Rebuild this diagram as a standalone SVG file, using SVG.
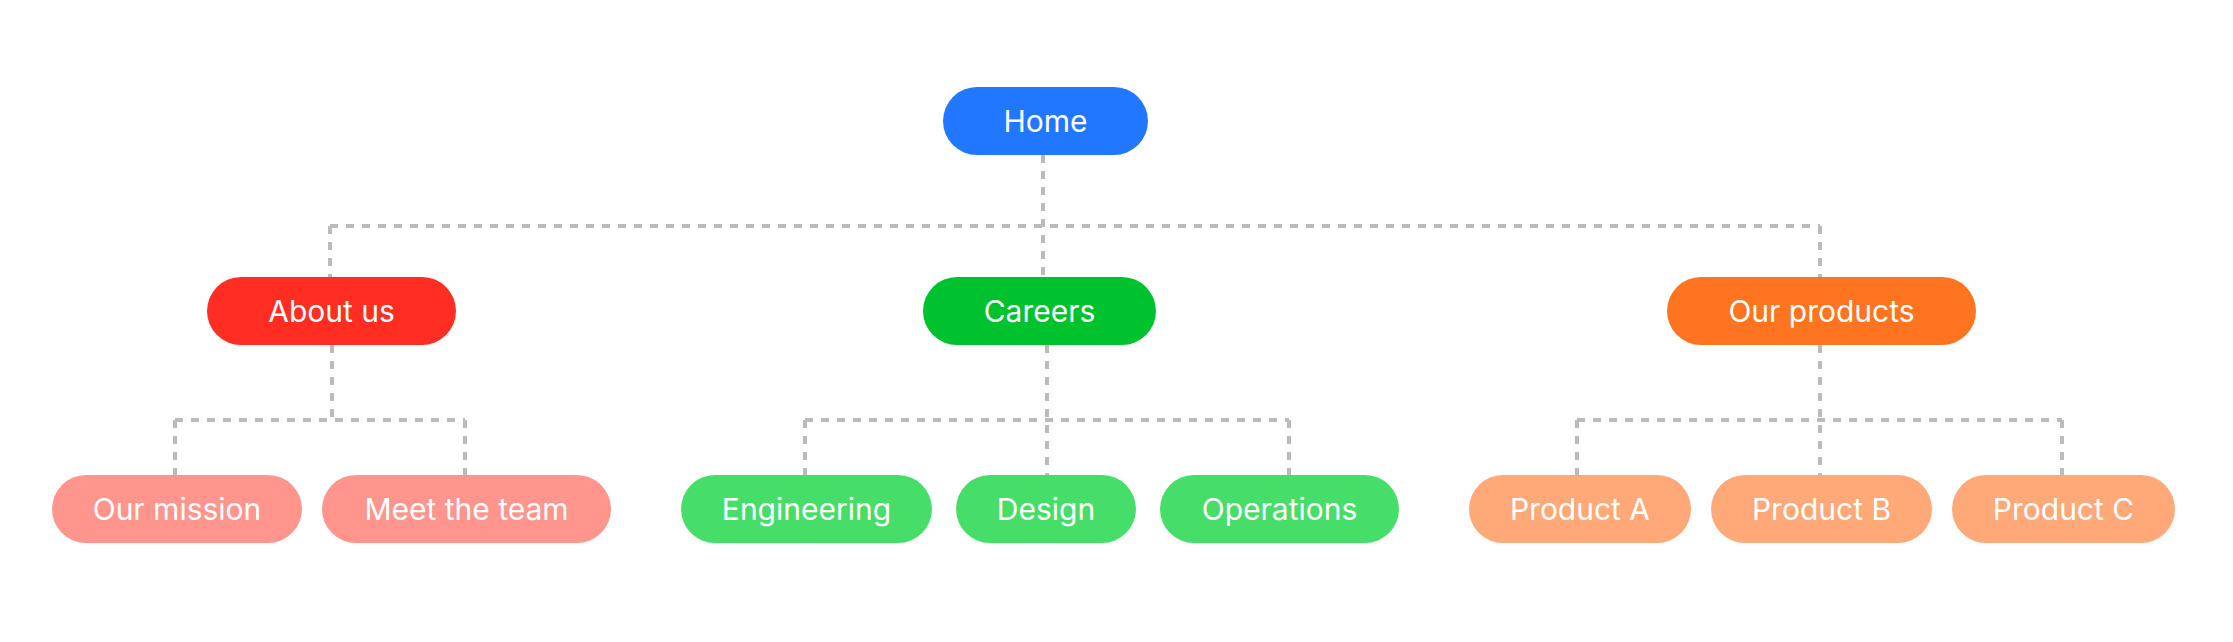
<svg xmlns="http://www.w3.org/2000/svg" width="2233" height="642" viewBox="0 0 2233 642">
<style>
.c{fill:none;stroke:#BBBBBB;stroke-width:4;stroke-dasharray:8 8}
.t{font-family:Inter,"Noto Sans","Liberation Sans",sans-serif;font-size:30px;fill:#FFFFFF;text-anchor:middle}
.blue{fill:#2178FF}.red{fill:#FF2D22}.green{fill:#00C22E}.orange{fill:#FF7420}
.lred{fill:#FF958C}.lgreen{fill:#47DD69}.lorange{fill:#FFA878}
</style>
<rect width="2233" height="642" fill="#FFFFFF"/>
<g id="connectors">
<path class="c" d="M1043 155V277"/>
<path class="c" d="M330 226H1820"/>
<path class="c" d="M330 226V277"/>
<path class="c" d="M1820 226V277"/>
<path class="c" d="M332 345V420"/>
<path class="c" d="M175 420H465"/>
<path class="c" d="M175 420V475"/>
<path class="c" d="M465 420V475"/>
<path class="c" d="M1047 345V475"/>
<path class="c" d="M805 420H1289"/>
<path class="c" d="M805 420V475"/>
<path class="c" d="M1289 420V475"/>
<path class="c" d="M1820 345V475"/>
<path class="c" d="M1577 420H2062"/>
<path class="c" d="M1577 420V475"/>
<path class="c" d="M2062 420V475"/>
</g>
<g id="home"><rect class="blue" x="943" y="87" width="205" height="68" rx="34"/><text class="t" x="1045.5" y="131.5">Home</text></g>
<g id="about"><rect class="red" x="207" y="277" width="249" height="68" rx="34"/><text class="t" x="331.5" y="322">About us</text></g>
<g id="careers"><rect class="green" x="923" y="277" width="233" height="68" rx="34"/><text class="t" x="1039.5" y="322">Careers</text></g>
<g id="products"><rect class="orange" x="1667" y="277" width="309" height="68" rx="34"/><text class="t" x="1821.5" y="322">Our products</text></g>
<g id="mission"><rect class="lred" x="52" y="475" width="250" height="68" rx="34"/><text class="t" x="177" y="520">Our mission</text></g>
<g id="team"><rect class="lred" x="322" y="475" width="289" height="68" rx="34"/><text class="t" x="466.5" y="520">Meet the team</text></g>
<g id="engineering"><rect class="lgreen" x="681" y="475" width="251" height="68" rx="34"/><text class="t" x="806.5" y="520">Engineering</text></g>
<g id="design"><rect class="lgreen" x="956" y="475" width="180" height="68" rx="34"/><text class="t" x="1046" y="520">Design</text></g>
<g id="operations"><rect class="lgreen" x="1160" y="475" width="239" height="68" rx="34"/><text class="t" x="1279.5" y="520">Operations</text></g>
<g id="productA"><rect class="lorange" x="1469" y="475" width="222" height="68" rx="34"/><text class="t" x="1580" y="520">Product A</text></g>
<g id="productB"><rect class="lorange" x="1711" y="475" width="221" height="68" rx="34"/><text class="t" x="1821.5" y="520">Product B</text></g>
<g id="productC"><rect class="lorange" x="1952" y="475" width="223" height="68" rx="34"/><text class="t" x="2063.5" y="520">Product C</text></g>
</svg>
